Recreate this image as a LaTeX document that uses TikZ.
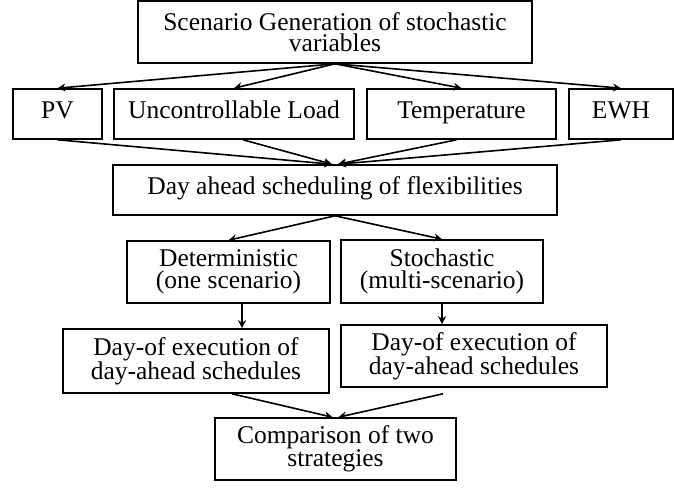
\documentclass[tikz,border=0pt]{standalone}
\usepackage{fontspec}
\setmainfont{Liberation Serif}
\usetikzlibrary{arrows.meta}

\begin{document}
\begin{tikzpicture}[x=1pt, y=-1pt, >={Stealth[length=8pt,width=8pt]}, line width=1.6pt,
  every node/.style={font=\fontsize{25.5}{21.5}\selectfont, align=center, inner sep=2pt},
  box/.style={draw, rectangle, minimum height=50pt},
  onebox/.style={box, text height=13pt, text depth=5pt}]
\useasboundingbox (0,0) rectangle (674,487);
\node[box, minimum width=394pt, minimum height=62pt] (gen) at (335,32) {Scenario Generation of stochastic\\variables};
\node[onebox, minimum width=89pt] (pv) at (57.5,114) {PV};
\node[onebox, minimum width=240pt] (load) at (234,114) {Uncontrollable Load};
\node[onebox, minimum width=189pt] (temp) at (461.5,114) {Temperature};
\node[onebox, minimum width=104pt] (ewh) at (621,114) {EWH};
\node[onebox, minimum width=444pt] (dayahead) at (335,190) {Day ahead scheduling of flexibilities};
\node[box, minimum width=203pt, minimum height=62pt] (det) at (228.5,272) {Deterministic\\(one scenario)};
\node[box, minimum width=202pt, minimum height=63pt] (sto) at (442,271.5) {Stochastic\\(multi-scenario)};
\node[box, minimum width=266pt, minimum height=64pt] (exdet) at (196,361) {Day-of execution of\\day-ahead schedules};
\node[box, minimum width=266pt, minimum height=62pt] (exsto) at (474,356) {Day-of execution of\\day-ahead schedules};
\node[box, minimum width=241pt, minimum height=62pt] (cmp) at (335.5,449) {Comparison of two\\strategies};
\draw[->] (gen.south)--(pv.north);
\draw[->] (gen.south)--(load.north);
\draw[->] (gen.south)--(temp.north);
\draw[->] (gen.south)--(ewh.north);
\draw[->] (pv.south)--([xshift=-3pt]dayahead.north);
\draw[->] ([xshift=9pt]load.south)--([xshift=-3pt]dayahead.north);
\draw[->] ([xshift=-5pt]temp.south)--([xshift=3pt]dayahead.north);
\draw[->] (ewh.south)--([xshift=3pt]dayahead.north);
\draw[->] (dayahead.south)--(det.north);
\draw[->] (dayahead.south)--(sto.north);
\draw[->] ([xshift=13.5pt]det.south)--([xshift=13.5pt]det.south |- exdet.north);
\draw[->] (sto.south)--(sto.south |- exsto.north);
\draw[->] ([xshift=36pt]exdet.south)--([xshift=-3pt]cmp.north);
\draw[->] ([xshift=-31pt,yshift=-6pt]exsto.south)--([xshift=3pt]cmp.north);
\end{tikzpicture}
\end{document}
